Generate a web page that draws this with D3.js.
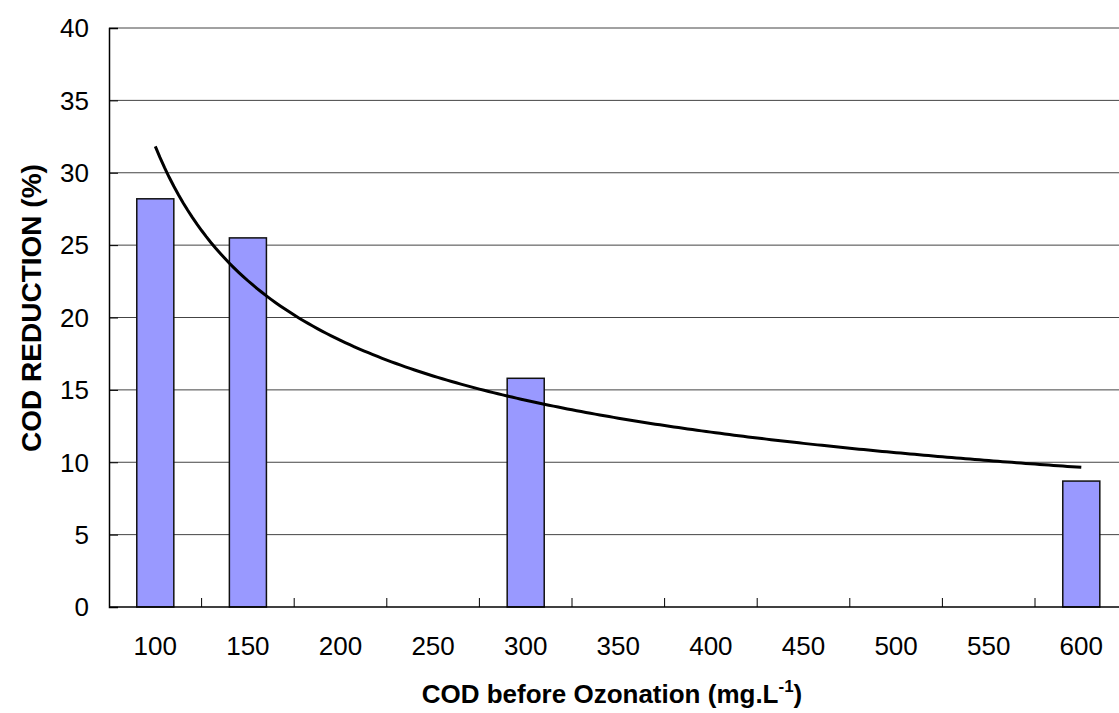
<!DOCTYPE html>
<html>
<head>
<meta charset="utf-8">
<script src="https://cdn.jsdelivr.net/npm/d3@7"></script>
<style>
  body { margin: 0; background: #fff; }
  svg { display: block; font-family: "Liberation Sans", Arial, sans-serif; }
</style>
</head>
<body>
<div id="chart"></div>
<script>
// Chart data
const categories = ['100', '150', '200', '250', '300', '350', '400', '450', '500', '550', '600'];
const reduction = [28.2, 25.5, null, null, 15.8, null, null, null, null, null, 8.7];
const yTicks = [0, 5, 10, 15, 20, 25, 30, 35, 40];

const width = 1119, height = 713;
const margin = { left: 109, top: 28, bottom: 106 };
const band = 92.6;

const svg = d3.select('#chart')
    .append('svg')
    .attr('width', width)
    .attr('height', height);

const x = d3.scaleBand()
    .domain(categories)
    .range([margin.left, margin.left + band * categories.length])
    .padding(0);

const y = d3.scaleLinear()
    .domain([0, 40])
    .range([height - margin.bottom, margin.top]);

const plotRight = margin.left + band * categories.length;

// Gridlines
svg.append('g')
    .selectAll('line')
    .data(yTicks.filter(d => d > 0))
    .enter()
    .append('line')
    .attr('x1', margin.left)
    .attr('x2', plotRight)
    .attr('y1', d => y(d))
    .attr('y2', d => y(d))
    .attr('stroke', '#444')
    .attr('stroke-width', 1);

// Bars
const barData = categories
    .map((c, i) => ({ c, v: reduction[i] }))
    .filter(d => d.v !== null);

svg.append('g')
    .selectAll('rect')
    .data(barData)
    .enter()
    .append('rect')
    .attr('x', d => x(d.c) + x.bandwidth() * 0.3)
    .attr('width', x.bandwidth() * 0.4)
    .attr('y', d => y(d.v))
    .attr('height', d => y(0) - y(d.v))
    .attr('fill', '#9999ff')
    .attr('stroke', '#111')
    .attr('stroke-width', 1.5);

// Power trendline fitted to the bars (x = category number, like the spreadsheet does)
const pts = categories
    .map((c, i) => ({ n: i + 1, v: reduction[i] }))
    .filter(d => d.v !== null);
const lx = pts.map(d => Math.log(d.n)), ly = pts.map(d => Math.log(d.v));
const mx = d3.mean(lx), my = d3.mean(ly);
const b = d3.sum(lx, (v, i) => (v - mx) * (ly[i] - my)) / d3.sum(lx, v => (v - mx) * (v - mx));
const a = Math.exp(my - b * mx);

const nPos = d3.scaleLinear()
    .domain([1, categories.length])
    .range([x(categories[0]) + x.bandwidth() / 2, x(categories[categories.length - 1]) + x.bandwidth() / 2]);

const trend = d3.range(1, categories.length + 0.001, 0.05).map(n => [n, a * Math.pow(n, b)]);

svg.append('path')
    .datum(trend)
    .attr('fill', 'none')
    .attr('stroke', '#000')
    .attr('stroke-width', 3)
    .attr('d', d3.line().x(d => nPos(d[0])).y(d => y(d[1])));

// Axes
const yAxis = svg.append('g')
    .attr('transform', `translate(${margin.left},0)`)
    .call(d3.axisRight(y).tickValues(yTicks).tickSize(9).tickFormat(''));
yAxis.select('.domain').attr('stroke', '#000').attr('stroke-width', 1.5);
yAxis.selectAll('.tick line').attr('stroke', '#000');

svg.append('g')
    .selectAll('text')
    .data(yTicks)
    .enter()
    .append('text')
    .attr('x', 89)
    .attr('y', d => y(d))
    .attr('dy', '0.36em')
    .attr('text-anchor', 'end')
    .attr('font-size', 26)
    .attr('fill', '#000')
    .text(d => d);

svg.append('line')
    .attr('x1', margin.left)
    .attr('x2', plotRight)
    .attr('y1', y(0))
    .attr('y2', y(0))
    .attr('stroke', '#000')
    .attr('stroke-width', 1.5);

// Category boundary ticks, pointing up into the plot
svg.append('g')
    .selectAll('line')
    .data(categories.slice(1))
    .enter()
    .append('line')
    .attr('x1', d => x(d))
    .attr('x2', d => x(d))
    .attr('y1', y(0))
    .attr('y2', y(0) - 9)
    .attr('stroke', '#000');

svg.append('g')
    .selectAll('text')
    .data(categories)
    .enter()
    .append('text')
    .attr('x', d => x(d) + x.bandwidth() / 2)
    .attr('y', 655)
    .attr('text-anchor', 'middle')
    .attr('font-size', 26)
    .attr('fill', '#000')
    .text(d => d);

// Axis titles
const xTitle = svg.append('text')
    .attr('x', 612)
    .attr('y', 703)
    .attr('text-anchor', 'middle')
    .attr('font-size', 26)
    .attr('font-weight', 'bold')
    .attr('fill', '#000');
xTitle.append('tspan').text('COD before Ozonation (mg.L');
xTitle.append('tspan').attr('dy', -11).attr('font-size', 17).text('-1');
xTitle.append('tspan').attr('dy', 11).text(')');

svg.append('text')
    .attr('transform', 'translate(41,308) rotate(-90)')
    .attr('text-anchor', 'middle')
    .attr('font-size', 28)
    .attr('font-weight', 'bold')
    .attr('fill', '#000')
    .text('COD REDUCTION (%)');
</script>
</body>
</html>
